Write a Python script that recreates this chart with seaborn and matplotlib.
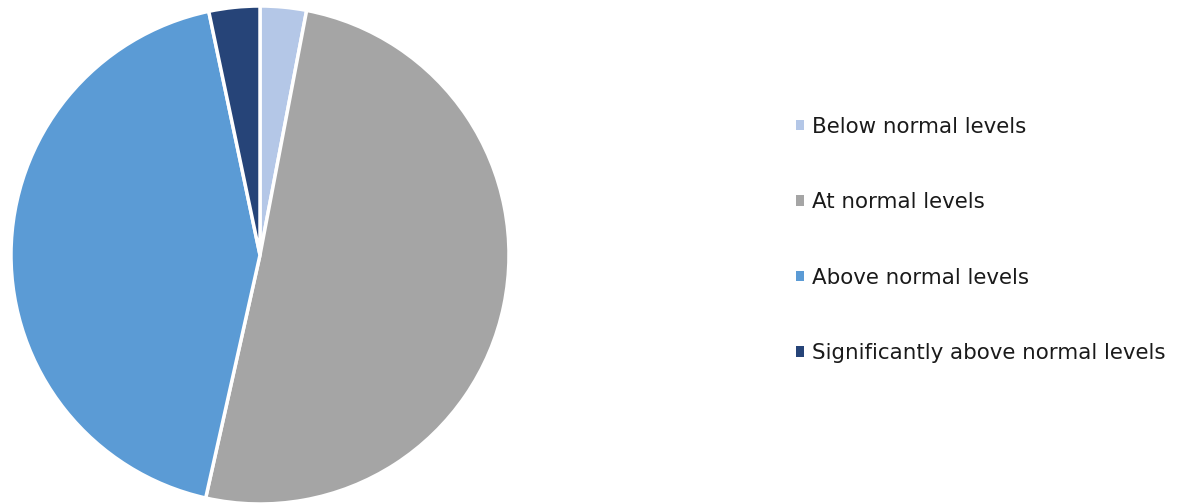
import matplotlib
matplotlib.use("Agg")
import matplotlib.pyplot as plt
from matplotlib.patches import Patch
import seaborn as sns

categories = ["Below normal levels", "At normal levels", "Above normal levels",
              "Significantly above normal levels"]
shares = [3.0, 50.5, 43.2, 3.3]
colors = ["#B4C7E7", "#A5A5A5", "#5B9BD5", "#264478"]

sns.set_theme(style="white")
plt.rcParams["font.family"] = ["DejaVu Sans"]

W, H, DPI = 1184, 503, 100
fig = plt.figure(figsize=(W / DPI, H / DPI), dpi=DPI)

# pie axes: centre (260, 255) px, radius 249 px
cx, cy, r = 260, 255, 249
ax = fig.add_axes([(cx - r) / W, (H - cy - r) / H, 2 * r / W, 2 * r / H])
ax.pie(shares, colors=colors, startangle=90, counterclock=False, radius=1,
       wedgeprops=dict(edgecolor="white", linewidth=2.5))
ax.set_xlim(-1, 1)
ax.set_ylim(-1, 1)
ax.set_aspect("equal")
ax.axis("off")

handles = [Patch(facecolor=c, edgecolor="none") for c in colors]
fig.legend(handles, categories, loc="center left",
           bbox_to_anchor=(796 / W, (H - 240) / H),
           frameon=False, fontsize=15.4, labelspacing=2.6,
           handlelength=0.38, handleheight=0.38, handletextpad=0.38,
           borderpad=0, borderaxespad=0, labelcolor="#1a1a1a")

fig.savefig("out.png", dpi=DPI)
